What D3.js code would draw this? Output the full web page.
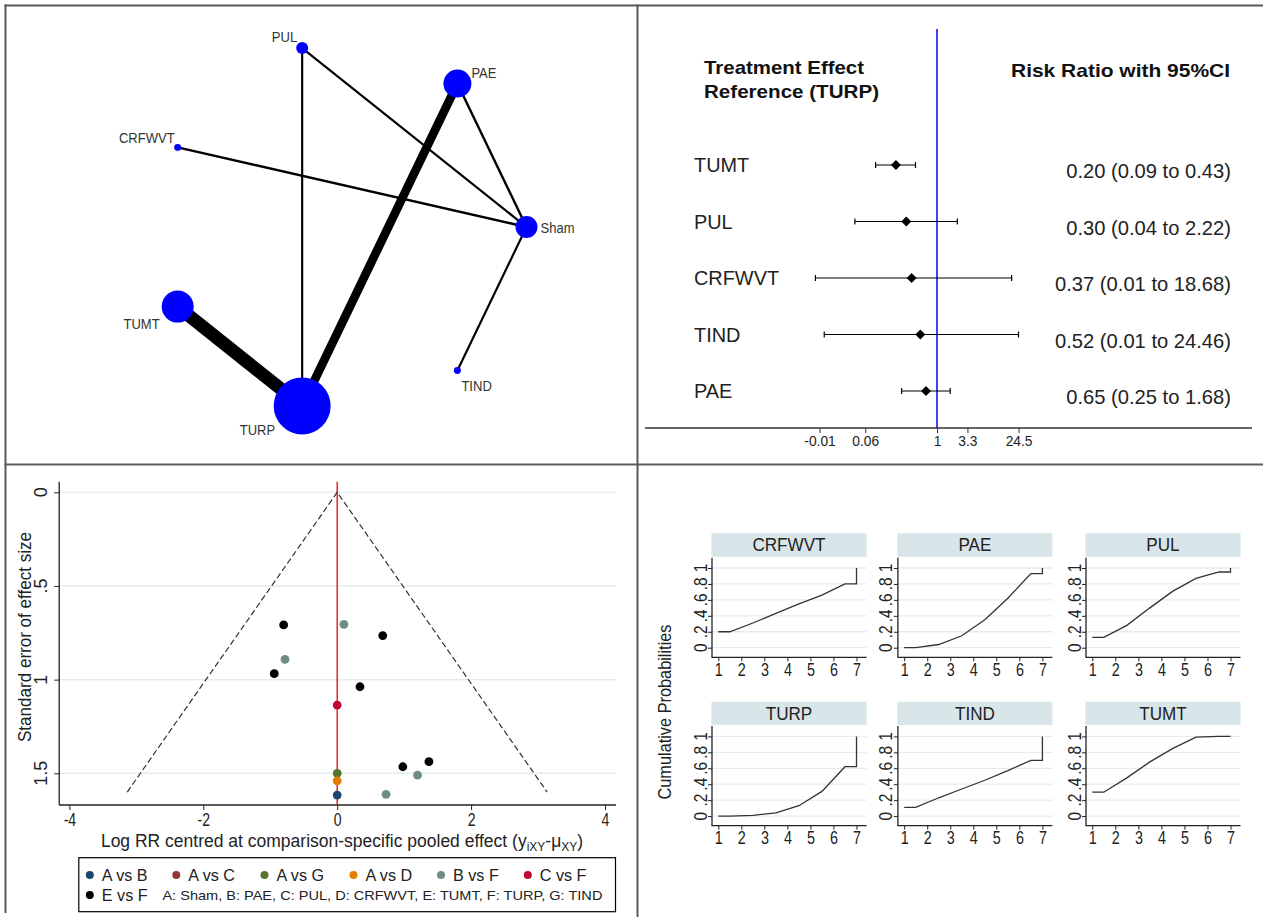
<!DOCTYPE html>
<html><head><meta charset="utf-8">
<script src="https://cdn.jsdelivr.net/npm/d3@7"></script>
<style>
body{margin:0;background:#fff}
svg{display:block}
text{font-family:"Liberation Sans",Arial,sans-serif}
</style>
</head><body>
<svg id="c" width="1263" height="917"></svg>
<script>
// ================= DATA =================
// --- Network plot (top-left) ---
const netNodes = ["Sham", "PAE", "PUL", "CRFWVT", "TUMT", "TURP", "TIND"];
const netNodeWeight = [121, 196, 36, 12, 256, 812, 12];
const netEdgeFrom = ["PUL", "PUL", "PAE", "PAE", "CRFWVT", "TUMT", "Sham"];
const netEdgeTo = ["TURP", "Sham", "TURP", "Sham", "Sham", "TURP", "TIND"];
const netEdgeStudies = [1, 1, 4, 1.1, 1.1, 6, 1];

// --- Forest plot (top-right) ---
const forestTreat = ["TUMT", "PUL", "CRFWVT", "TIND", "PAE"];
const forestRR = [0.20, 0.30, 0.37, 0.52, 0.65];
const forestLo = [0.09, 0.04, 0.0085, 0.012, 0.25];
const forestHi = [0.43, 2.22, 18.68, 24.46, 1.68];
const forestTickVals = [0.01, 0.06, 1, 3.3, 24.5];
const forestTickLabels = ["-0.01", "0.06", "1", "3.3", "24.5"];

// --- Comparison-adjusted funnel plot (bottom-left) ---
const funnelGroups = ["A vs B", "A vs C", "A vs G", "A vs D", "B vs F", "C vs F", "E vs F"];
const funnelColors = ["#1a476f", "#90353b", "#55752f", "#e37e00", "#6e8e84", "#c10534", "#000000"];
const funnelPtGroup = ["E vs F", "E vs F", "E vs F", "E vs F", "E vs F", "E vs F",
                       "B vs F", "B vs F", "B vs F", "B vs F",
                       "C vs F", "A vs G", "A vs D", "A vs B"];
const funnelPtX = [-0.80, 0.68, -0.94, 0.34, 0.98, 1.37,
                   0.10, -0.78, 1.20, 0.73,
                   0, 0, 0, 0];
const funnelPtSE = [0.708, 0.765, 0.968, 1.038, 1.465, 1.438,
                    0.705, 0.892, 1.510, 1.612,
                    1.136, 1.500, 1.541, 1.616];
const funnelXTicks = [-4, -2, 0, 2, 4];
const funnelYTicks = [0, 0.5, 1, 1.5];
const funnelYTickLabels = ["0", ".5", "1", "1.5"];
const funnelMaxSE = 1.6;
const legendKey = "A: Sham, B: PAE, C: PUL, D: CRFWVT, E: TUMT, F: TURP, G: TIND";

// --- Cumulative ranking curves (bottom-right) ---
const sucraTreat = ["CRFWVT", "PAE", "PUL", "TURP", "TIND", "TUMT"];
const sucraRanks = [1, 2, 3, 4, 5, 6, 7];
const cumCRFWVT = [0.20, 0.31, 0.43, 0.55, 0.66, 0.80, 1];
const cumPAE    = [0.00, 0.04, 0.15, 0.35, 0.62, 0.93, 1];
const cumPUL    = [0.13, 0.28, 0.50, 0.71, 0.87, 0.95, 1];
const cumTURP   = [0.00, 0.01, 0.04, 0.13, 0.31, 0.62, 1];
const cumTIND   = [0.11, 0.23, 0.34, 0.45, 0.57, 0.70, 1];
const cumTUMT   = [0.30, 0.48, 0.68, 0.85, 0.99, 1.00, 1];
const sucraYTicks = [0, 0.2, 0.4, 0.6, 0.8, 1];
const sucraYTickLabels = ["0", ".2", ".4", ".6", ".8", "1"];

// ================= DRAWING =================
const svg = d3.select("#c");
function squeeze(sel, ratio) {
  sel.each(function () {
    const w = this.getComputedTextLength();
    d3.select(this).attr("textLength", w * ratio).attr("lengthAdjust", "spacingAndGlyphs");
  });
}

// ---- panel frame lines ----
const frame = svg.append("g").attr("stroke", "#5a5a5a").attr("stroke-width", 2);
frame.append("line").attr("x1", 4.5).attr("x2", 1263).attr("y1", 5.5).attr("y2", 5.5);
frame.append("line").attr("x1", 5.5).attr("x2", 5.5).attr("y1", 4.5).attr("y2", 913);
frame.append("line").attr("x1", 637.5).attr("x2", 637.5).attr("y1", 4.5).attr("y2", 917);
frame.append("line").attr("x1", 4.5).attr("x2", 1263).attr("y1", 464.5).attr("y2", 464.5);

// ---- Network plot ----
(function () {
  const cx = 343, cy = 227, R = 183.5;
  const ang = d3.scaleLinear().domain([0, netNodes.length]).range([0, 2 * Math.PI]);
  const pos = {};
  netNodes.forEach((n, i) => {
    pos[n] = [cx + R * Math.cos(ang(i)), cy - R * Math.sin(ang(i))];
  });
  const rScale = d3.scaleSqrt().domain([0, d3.max(netNodeWeight)]).range([0, 28.5]);
  const wScale = d3.scaleLinear().domain([0, 6]).range([0, 13]);
  const g = svg.append("g");
  netEdgeFrom.forEach((f, i) => {
    const a = pos[f], b = pos[netEdgeTo[i]];
    g.append("line").attr("x1", a[0]).attr("y1", a[1]).attr("x2", b[0]).attr("y2", b[1])
      .attr("stroke", "#000").attr("stroke-width", wScale(netEdgeStudies[i]));
  });
  netNodes.forEach((n, i) => {
    g.append("circle").attr("cx", pos[n][0]).attr("cy", pos[n][1])
      .attr("r", rScale(netNodeWeight[i])).attr("fill", "#0000ff");
  });
  const lab = {
    Sham: [14, 1, "start"], PAE: [14, -11, "start"], PUL: [-5, -11, "end"],
    CRFWVT: [-3, -9, "end"], TUMT: [-18, 17, "end"], TIND: [4, 15, "start"], TURP: [-27, 24, "end"]
  };
  netNodes.forEach(n => {
    g.append("text").attr("x", pos[n][0] + lab[n][0]).attr("y", pos[n][1] + lab[n][1])
      .attr("dy", "0.36em").attr("text-anchor", lab[n][2])
      .attr("font-size", 14).attr("fill", "#333").text(n)
      .call(squeeze, 0.93);
  });
})();

// ---- Forest plot ----
(function () {
  const x = d3.scaleLog().domain([0.01, 24.5])
    .range([937 - 25.5 * Math.log(100), 937 + 25.5 * Math.log(24.5)]);
  const y = d3.scalePoint().domain(forestTreat).range([165, 391]);
  const g = svg.append("g");
  g.append("text").attr("x", 704).attr("y", 74).attr("font-size", 19).attr("font-weight", "bold")
    .attr("fill", "#111").attr("textLength", 160).attr("lengthAdjust", "spacingAndGlyphs").text("Treatment Effect");
  g.append("text").attr("x", 704).attr("y", 98).attr("font-size", 19).attr("font-weight", "bold")
    .attr("fill", "#111").attr("textLength", 175).attr("lengthAdjust", "spacingAndGlyphs").text("Reference (TURP)");
  g.append("text").attr("x", 1011).attr("y", 77).attr("font-size", 19).attr("font-weight", "bold")
    .attr("fill", "#111").attr("textLength", 219).attr("lengthAdjust", "spacingAndGlyphs").text("Risk Ratio with 95%CI");
  g.append("line").attr("x1", x(1)).attr("x2", x(1)).attr("y1", 29).attr("y2", 428)
    .attr("stroke", "#0000ff").attr("stroke-width", 1.5);
  g.append("line").attr("x1", 645).attr("x2", 1252).attr("y1", 428).attr("y2", 428)
    .attr("stroke", "#333").attr("stroke-width", 1.3);
  const ax = g.append("g").attr("transform", "translate(0,428)")
    .call(d3.axisBottom(x).tickValues(forestTickVals).tickSize(5)
      .tickFormat((d, i) => forestTickLabels[i]));
  ax.select(".domain").remove();
  ax.selectAll("line").attr("stroke", "#333");
  ax.selectAll("text").attr("font-size", 14.5).attr("fill", "#222").attr("y", 8)
    .attr("font-family", "'Liberation Sans',Arial,sans-serif").call(squeeze, 0.95);
  forestTreat.forEach((t, i) => {
    const yy = y(t);
    g.append("text").attr("x", 694).attr("y", yy + 7).attr("font-size", 20.5).attr("fill", "#222").text(t)
      .call(squeeze, 0.97);
    g.append("line").attr("x1", x(forestLo[i])).attr("x2", x(forestHi[i])).attr("y1", yy).attr("y2", yy)
      .attr("stroke", "#000").attr("stroke-width", 1.2);
    [forestLo[i], forestHi[i]].forEach(v => {
      g.append("line").attr("x1", x(v)).attr("x2", x(v)).attr("y1", yy - 3).attr("y2", yy + 3)
        .attr("stroke", "#000").attr("stroke-width", 1.2);
    });
    const cxp = x(forestRR[i]);
    g.append("path").attr("d", `M${cxp - 5},${yy}L${cxp},${yy - 5}L${cxp + 5},${yy}L${cxp},${yy + 5}Z`)
      .attr("fill", "#000");
    const lbl = `${forestRR[i].toFixed(2)} (${forestLo[i].toFixed(2)} to ${forestHi[i].toFixed(2)})`;
    g.append("text").attr("x", 1231).attr("y", yy + 13).attr("text-anchor", "end")
      .attr("font-size", 21).attr("fill", "#222").text(lbl).call(squeeze, 0.96);
  });
})();

// ---- Funnel plot ----
(function () {
  const x = d3.scaleLinear().domain([-4, 4]).range([69.4, 605]);
  const y = d3.scaleLinear().domain([0, 1.5]).range([492.3, 773.3]);
  const L = 59.2, Rr = 616, T = 481.7, B = 805;
  const g = svg.append("g");
  funnelYTicks.forEach(v => {
    g.append("line").attr("x1", L).attr("x2", Rr).attr("y1", y(v)).attr("y2", y(v))
      .attr("stroke", "#e3edf0").attr("stroke-width", 1.5);
  });
  g.append("line").attr("x1", L).attr("x2", L).attr("y1", T).attr("y2", B).attr("stroke", "#222").attr("stroke-width", 1.3);
  g.append("line").attr("x1", L).attr("x2", Rr).attr("y1", B).attr("y2", B).attr("stroke", "#222").attr("stroke-width", 1.3);
  const ax = g.append("g").attr("transform", `translate(0,${B})`)
    .call(d3.axisBottom(x).tickValues(funnelXTicks).tickSize(5).tickFormat(d3.format("d")));
  ax.select(".domain").remove();
  ax.selectAll("line").attr("stroke", "#222");
  ax.selectAll("text").attr("font-size", 18).attr("fill", "#222").attr("y", 8)
    .attr("font-family", "'Liberation Sans',Arial,sans-serif").text((d) => d < 0 ? "-" + Math.abs(d) : d)
    .call(squeeze, 0.78);
  const ay = g.append("g").attr("transform", `translate(${L},0)`)
    .call(d3.axisLeft(y).tickValues(funnelYTicks).tickSize(5).tickFormat(""));
  ay.select(".domain").remove();
  ay.selectAll("line").attr("stroke", "#222");
  funnelYTicks.forEach((v, i) => {
    g.append("text").attr("transform", `translate(47,${y(v)}) rotate(-90)`)
      .attr("text-anchor", "middle").attr("font-size", 18).attr("fill", "#222").text(funnelYTickLabels[i]);
  });
  g.append("line").attr("x1", x(0)).attr("x2", x(0)).attr("y1", T).attr("y2", B)
    .attr("stroke", "#e8141c").attr("stroke-width", 1.4);
  const fl = d3.line().x(d => x(d[0])).y(d => y(d[1]));
  g.append("path").attr("d", fl([[-1.96 * funnelMaxSE, funnelMaxSE], [0, 0], [1.96 * funnelMaxSE, funnelMaxSE]]))
    .attr("fill", "none").attr("stroke", "#333").attr("stroke-width", 1.2).attr("stroke-dasharray", "6,3");
  funnelPtX.forEach((v, i) => {
    const col = funnelColors[funnelGroups.indexOf(funnelPtGroup[i])];
    g.append("circle").attr("cx", x(v)).attr("cy", y(funnelPtSE[i])).attr("r", 4.4).attr("fill", col);
  });
  g.append("text").attr("transform", "translate(31,637) rotate(-90)").attr("text-anchor", "middle")
    .attr("font-size", 18.5).attr("fill", "#222").attr("textLength", 210).attr("lengthAdjust", "spacingAndGlyphs")
    .text("Standard error of effect size");
  const xt = g.append("text").attr("x", 342).attr("y", 847).attr("text-anchor", "middle")
    .attr("font-size", 17.5).attr("fill", "#222");
  xt.append("tspan").text("Log RR centred at comparison-specific  pooled  effect (y");
  xt.append("tspan").attr("font-size", 12).attr("dy", 4).text("iXY");
  xt.append("tspan").attr("dy", -4).text("-\u03bc");
  xt.append("tspan").attr("font-size", 12).attr("dy", 4).text("XY");
  xt.append("tspan").attr("dy", -4).text(")");
  g.append("rect").attr("x", 78.8).attr("y", 857.7).attr("width", 536.7).attr("height", 54)
    .attr("fill", "#fff").attr("stroke", "#000").attr("stroke-width", 1.2);
  const legX = [89.8, 176.3, 264.5, 353.5, 441, 527.8, 89.8];
  const legY = [875, 875, 875, 875, 875, 875, 895];
  funnelGroups.forEach((gname, i) => {
    g.append("circle").attr("cx", legX[i]).attr("cy", legY[i]).attr("r", 4).attr("fill", funnelColors[i]);
    g.append("text").attr("x", legX[i] + 12).attr("y", legY[i] + 6).attr("font-size", 17).attr("fill", "#222")
      .text(gname).call(squeeze, 0.95);
  });
  g.append("text").attr("x", 162.4).attr("y", 900).attr("font-size", 13.5).attr("fill", "#222")
    .attr("textLength", 440).attr("lengthAdjust", "spacingAndGlyphs").text(legendKey);
})();

// ---- Cumulative ranking panels ----
(function () {
  const cum = { CRFWVT: cumCRFWVT, PAE: cumPAE, PUL: cumPUL, TURP: cumTURP, TIND: cumTIND, TUMT: cumTUMT };
  const colL = [711.5, 897.4, 1085.5];
  const stripT = [533.3, 701.7];
  const W = 155, SH = 23.4;
  const g = svg.append("g");
  sucraTreat.forEach((t, k) => {
    const L = colL[k % 3], ST = stripT[Math.floor(k / 3)], SB = ST + SH;
    const x = d3.scaleLinear().domain([1, 7]).range([L + 6.8, L + 145]);
    const y = d3.scaleLinear().domain([0, 1]).range([SB + 91, SB + 11.3]);
    const axY = SB + 100.6;
    g.append("rect").attr("x", L).attr("y", ST).attr("width", W).attr("height", SH).attr("fill", "#d8e5e9");
    g.append("text").attr("x", L + W / 2).attr("y", ST + 18).attr("text-anchor", "middle")
      .attr("font-size", 18).attr("fill", "#222").text(t).call(squeeze, 0.95);
    sucraYTicks.forEach(v => {
      g.append("line").attr("x1", L).attr("x2", L + W).attr("y1", y(v)).attr("y2", y(v))
        .attr("stroke", "#e3edf0").attr("stroke-width", 1.3);
    });
    g.append("line").attr("x1", L + 0.5).attr("x2", L + 0.5).attr("y1", SB + 1).attr("y2", axY).attr("stroke", "#222").attr("stroke-width", 1.3);
    g.append("line").attr("x1", L).attr("x2", L + W).attr("y1", axY).attr("y2", axY).attr("stroke", "#222").attr("stroke-width", 1.3);
    const ax = g.append("g").attr("transform", `translate(0,${axY})`)
      .call(d3.axisBottom(x).tickValues(sucraRanks).tickSize(4).tickFormat(d3.format("d")));
    ax.select(".domain").remove();
    ax.selectAll("line").attr("stroke", "#222");
    ax.selectAll("text").attr("font-size", 17.5).attr("fill", "#222").attr("y", 6)
      .attr("font-family", "'Liberation Sans',Arial,sans-serif").call(squeeze, 0.82);
    const ay = g.append("g").attr("transform", `translate(${L + 0.5},0)`)
      .call(d3.axisLeft(y).tickValues(sucraYTicks).tickSize(4).tickFormat(""));
    ay.select(".domain").remove();
    ay.selectAll("line").attr("stroke", "#222");
    sucraYTicks.forEach((v, i) => {
      g.append("text").attr("transform", `translate(${L - 5},${y(v)}) rotate(-90)`)
        .attr("text-anchor", "middle").attr("font-size", 17.5).attr("fill", "#222").text(sucraYTickLabels[i])
        .call(squeeze, 0.88);
    });
    const c = cum[t];
    const pts = [[1, c[0]], [1.5, c[0]]];
    for (let r = 1; r < 6; r++) pts.push([r + 1.5, c[r]]);
    pts.push([7, c[5]], [7, c[6]]);
    g.append("path").attr("d", d3.line().x(d => x(d[0])).y(d => y(d[1]))(pts))
      .attr("fill", "none").attr("stroke", "#333").attr("stroke-width", 1.3);
  });
  g.append("text").attr("transform", "translate(671,712) rotate(-90)").attr("text-anchor", "middle")
    .attr("font-size", 19).attr("fill", "#222").attr("textLength", 175).attr("lengthAdjust", "spacingAndGlyphs")
    .text("Cumulative Probabilities");
})();
</script>
</body></html>
